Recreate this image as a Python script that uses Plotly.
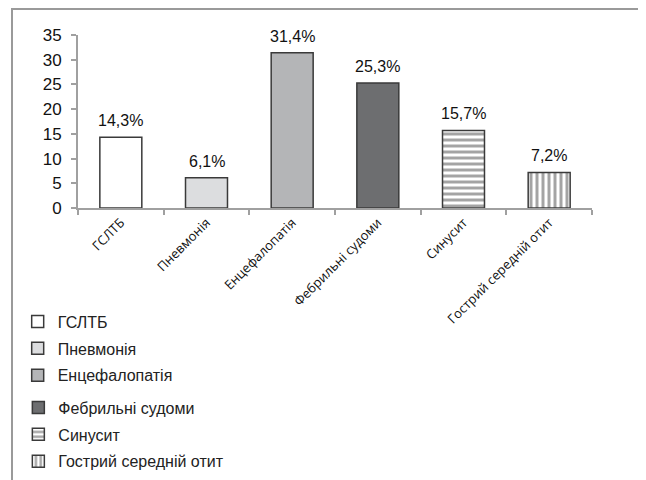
import plotly.graph_objects as go

categories = ["ГСЛТБ", "Пневмонія", "Енцефалопатія", "Фебрильні судоми", "Синусит", "Гострий середній отит"]
values = [14.3, 6.1, 31.4, 25.3, 15.7, 7.2]
fill_colors = ["#ffffff", "#dcdddf", "#b4b5b7", "#6d6e70", "#ffffff", "#ffffff"]
patterns = ["", "", "", "", "-", "|"]
legend_ids = ["legend", "legend", "legend", "legend2", "legend2", "legend2"]
y_ticks = [0, 5, 10, 15, 20, 25, 30, 35]

fig = go.Figure()
for cat, val, col, pat, lg in zip(categories, values, fill_colors, patterns, legend_ids):
    marker = dict(color=col, line=dict(color="#3a3a3a", width=1.5))
    if pat:
        marker["pattern"] = dict(shape=pat, fgcolor="#4a4a4a", bgcolor="#ffffff",
                                 size=6, solidity=0.5, fillmode="overlay")
    fig.add_trace(go.Bar(x=[cat], y=[val], name=cat, width=0.49, marker=marker,
                         legendgroup=cat, legend=lg, showlegend=True))
    fig.add_annotation(x=cat, y=val, text=f"{val:.1f}%".replace(".", ","),
                       showarrow=False, yanchor="bottom", yshift=6,
                       font=dict(family="Liberation Sans, Arial", size=16, color="#111"))

legend_font = dict(family="Liberation Sans, Arial", size=16, color="#222")
fig.update_layout(
    width=646, height=480,
    margin=dict(l=70, r=62, t=27, b=280, autoexpand=False),
    paper_bgcolor="white", plot_bgcolor="white",
    barmode="overlay",
    showlegend=True,
    legend=dict(xref="container", yref="container", x=0.015, y=0.382,
                xanchor="left", yanchor="top", font=legend_font,
                tracegroupgap=3, bgcolor="rgba(0,0,0,0)"),
    legend2=dict(xref="container", yref="container", x=0.016, y=0.382 - 86 / 480,
                 xanchor="left", yanchor="top", font=legend_font,
                 tracegroupgap=3, bgcolor="rgba(0,0,0,0)"),
    xaxis=dict(type="category", categoryorder="array", categoryarray=categories,
               showline=True, linecolor="#a0a0a0", linewidth=2,
               ticks="outside", tickson="boundaries", ticklen=5, tickwidth=2, tickcolor="#a0a0a0",
               tickangle=-45, tickfont=dict(family="Open Sans", size=13, color="#111"),
               showgrid=False, zeroline=False),
    yaxis=dict(range=[0, 35], tickvals=y_ticks, showline=True, linecolor="#a0a0a0", linewidth=2,
               ticks="outside", ticklen=5, tickwidth=2, tickcolor="#a0a0a0",
               ticklabelstandoff=6,
               tickfont=dict(family="Liberation Sans, Arial", size=17, color="#111"),
               showgrid=False, zeroline=False),
)

# outer frame (left, top, right sides)
fig.add_shape(type="path", xref="paper", yref="paper",
              path="M -0.1284 -2 L -0.1284 1.150 L 1.103 1.150 L 1.103 -2",
              line=dict(color="#9a9a9a", width=2), layer="below")

fig.write_html("out.html")
